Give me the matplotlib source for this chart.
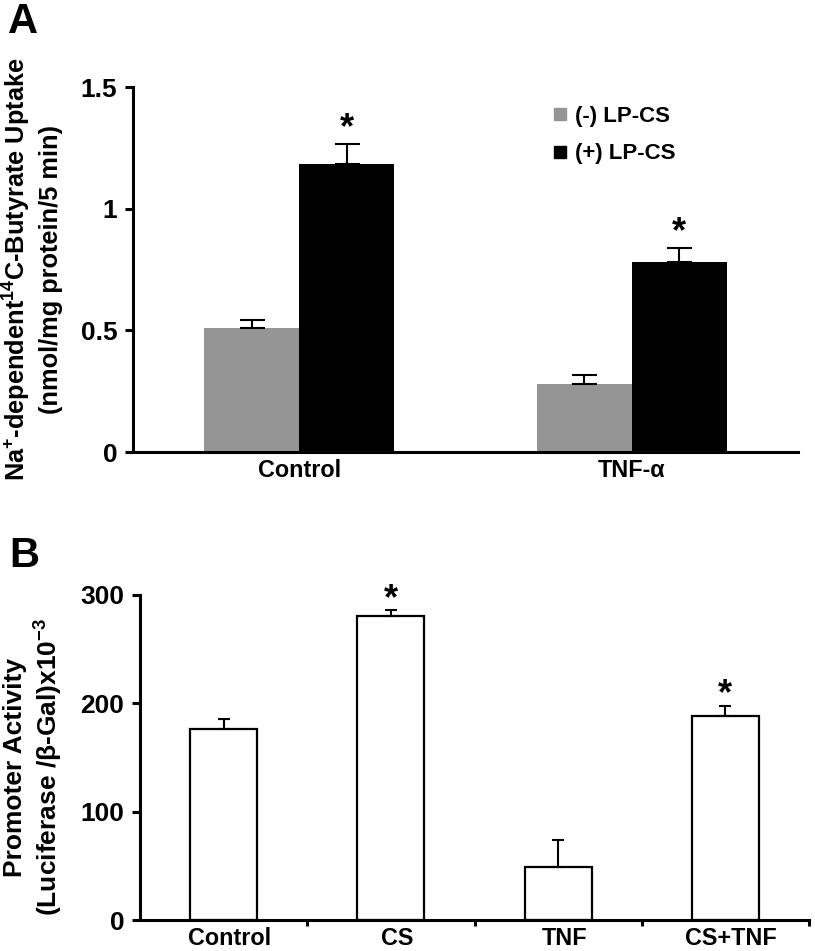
# Two-panel bar figure: butyrate uptake (A) and promoter activity (B)

import matplotlib
matplotlib.use('Agg')
import matplotlib.pyplot as plt
import matplotlib.transforms as mtransforms
from matplotlib.lines import Line2D
import numpy as np

plt.rcParams['font.family'] = ['Liberation Sans', 'DejaVu Sans']
plt.rcParams['font.weight'] = 'bold'
plt.rcParams['axes.labelweight'] = 'bold'
plt.rcParams['mathtext.fontset'] = 'custom'
plt.rcParams['mathtext.rm'] = 'Liberation Sans:bold'
plt.rcParams['mathtext.it'] = 'Liberation Sans:bold:italic'
plt.rcParams['mathtext.bf'] = 'Liberation Sans:bold'

# Panel A data
groups_a = ['Control', 'TNF-α']
series_a = ['(-) LP-CS', '(+) LP-CS']
minus_lpcs = [0.51, 0.28]
minus_lpcs_err = [0.033, 0.036]
plus_lpcs = [1.185, 0.78]
plus_lpcs_err = [0.082, 0.06]
stars_a = [True, True]  # stars over (+) LP-CS bars

# Panel B data
groups_b = ['Control', 'CS', 'TNF', 'CS+TNF']
promoter = [176, 281, 49, 188]
promoter_err = [10, 5, 25, 10]
stars_b = [False, True, False, True]

GRAY = '#959595'

fig = plt.figure(figsize=(8.15, 9.51), dpi=100)

def px_axes(left, top, right, bottom):
    W, H = 815.0, 951.0
    return fig.add_axes([left / W, (H - bottom) / H, (right - left) / W, (bottom - top) / H])

def style_axes(ax):
    for s in ['top', 'right']:
        ax.spines[s].set_visible(False)
    for s in ['left', 'bottom']:
        ax.spines[s].set_linewidth(2.2)
    ax.tick_params(axis='y', direction='out', length=5.8, width=2.2, pad=5.5, labelsize=19)
    ax.tick_params(axis='x', which='major', length=0, pad=5.0, labelsize=16.8)

# ---------------- Panel A ----------------
ax1 = px_axes(133, 87, 798, 452)
style_axes(ax1)
x = np.arange(len(groups_a))
w = 0.285
ax1.bar(x - w / 2, minus_lpcs, w, color=GRAY, zorder=2)
ax1.bar(x + w / 2, plus_lpcs, w, color='black', zorder=2)
ax1.errorbar(x - w / 2, minus_lpcs, yerr=[np.zeros(len(x)), minus_lpcs_err], fmt='none',
             ecolor='black', elinewidth=1.5, capsize=9, capthick=1.5, zorder=3)
ax1.errorbar(x + w / 2, plus_lpcs, yerr=[np.zeros(len(x)), plus_lpcs_err], fmt='none',
             ecolor='black', elinewidth=1.5, capsize=9, capthick=1.5, zorder=3)
for i in range(len(x)):
    if stars_a[i]:
        ax1.annotate('*', (x[i] + w / 2, plus_lpcs[i] + plus_lpcs_err[i]), xytext=(0, 4),
                     textcoords='offset points', ha='center', va='baseline', fontsize=26)
ax1.set_xlim(-0.5, 1.5)
ax1.set_ylim(0, 1.5)
ax1.set_xticks(x)
ax1.set_xticklabels(groups_a)
ax1.set_yticks([0, 0.5, 1, 1.5])
ax1.set_yticklabels(['0', '0.5', '1', '1.5'])
ax1.set_ylabel('Na$^{+}$-dependent$^{14}$C-Butyrate Uptake\n(nmol/mg protein/5 min)',
               fontsize=18.3, linespacing=1.28)
ax1.yaxis.set_label_coords(-0.106, 0.5)

handles = [Line2D([], [], marker='s', linestyle='none', color=GRAY, markersize=9),
           Line2D([], [], marker='s', linestyle='none', color='black', markersize=9)]
ax1.legend(handles, series_a, loc='upper left', bbox_to_anchor=(0.613, 0.979), frameon=False,
           fontsize=16, handlelength=0.7, handletextpad=0.35, labelspacing=0.75, borderpad=0)

# ---------------- Panel B ----------------
ax2 = px_axes(140, 595, 809, 920)
style_axes(ax2)
xb = np.arange(len(groups_b))
ax2.bar(xb, promoter, 0.4, color='white', edgecolor='black', linewidth=1.6, zorder=2)
ax2.errorbar(xb, promoter, yerr=[np.zeros(len(xb)), promoter_err], fmt='none',
             ecolor='black', elinewidth=1.5, capsize=4.5, capthick=1.5, zorder=3)
for i in range(len(xb)):
    if stars_b[i]:
        ax2.annotate('*', (xb[i], promoter[i] + promoter_err[i]), xytext=(0, 1),
                     textcoords='offset points', ha='center', va='baseline', fontsize=26)
ax2.set_xlim(-0.5, len(groups_b) - 0.5)
ax2.set_ylim(0, 300)
ax2.set_xticks(xb)
ax2.set_xticklabels(groups_b)
ax2.set_xticks(xb + 0.5, minor=True)
ax2.tick_params(axis='x', which='minor', direction='out', length=4, width=2.2)
ax2.set_yticks([0, 100, 200, 300])
ax2.set_ylabel('Promoter Activity\n(Luciferase /β-Gal)x10$^{-3}$', fontsize=19, linespacing=1.25)
ax2.yaxis.set_label_coords(-0.112, 0.47)
shift = mtransforms.ScaledTranslation(6 / 100, 0, fig.dpi_scale_trans)
for lab in ax2.get_xticklabels():
    lab.set_transform(lab.get_transform() + shift)

# panel letters
fig.text(8 / 815, 1 - 33 / 951, 'A', fontsize=30, fontweight='bold', va='baseline')
fig.text(9 / 815, 1 - 567 / 951, 'B', fontsize=30, fontweight='bold', va='baseline')

fig.savefig('out.png', dpi=100)
